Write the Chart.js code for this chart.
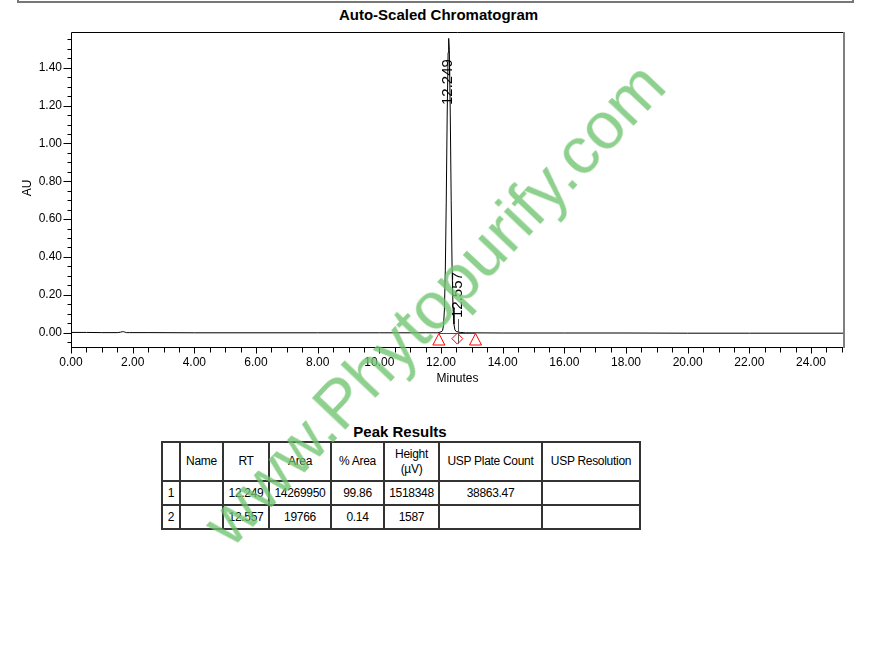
<!DOCTYPE html>
<html>
<head>
<meta charset="utf-8">
<script src="https://cdn.jsdelivr.net/npm/chart.js@4/dist/chart.umd.min.js"></script>
<style>
  html, body { margin:0; padding:0; background:#fff; }
  body { width:882px; height:655px; position:relative; overflow:hidden; font-family:"Liberation Sans", Arial, sans-serif; }
  #chart { position:absolute; left:0; top:0; }
  #hdr { position:absolute; left:17px; top:-4px; width:833px; height:5px; border:2px solid #777; border-top:none; }
  #title { position:absolute; left:0; top:5px; width:877px; text-align:center; font-weight:bold; font-size:15px; line-height:20px; color:#000; }
  #ptitle { position:absolute; left:161px; top:422px; width:478px; text-align:center; font-weight:bold; font-size:15px; line-height:20px; color:#000; }
  #tbl { position:absolute; left:161px; top:441px; border-collapse:collapse; table-layout:fixed; width:478px; font-size:12px; color:#000; }
  #tbl td { border:2px solid #333; text-align:center; padding:0; line-height:15px; overflow:hidden; white-space:nowrap; letter-spacing:-0.3px; }
  #tbl tr.h td { height:37px; }
  #tbl tr.r td { height:22px; }
  #wm { position:absolute; left:433px; top:303px; transform:translate(-50%,-50%) rotate(-46.5deg); font-size:67px; color:rgba(110,195,110,0.78); white-space:nowrap; pointer-events:none; font-family:"Liberation Sans", Arial, sans-serif; }
</style>
</head>
<body>
<div id="hdr"></div>
<div id="title">Auto-Scaled Chromatogram</div>
<canvas id="chart" width="882" height="400"></canvas>
<div id="ptitle">Peak Results</div>
<table id="tbl"></table>
<div id="wm">www.Phytopurify.com</div>
<script>
// ---- data ----
const chromTime = [0.00, 0.50, 1.00, 1.50, 1.60, 1.66, 1.70, 1.74, 1.80, 1.90, 2.50, 4.00, 6.00, 8.00, 10.00, 11.50, 11.90,
  12.00, 12.05, 12.08, 12.11, 12.14, 12.17, 12.20, 12.23, 12.249, 12.27, 12.30, 12.33, 12.36, 12.39, 12.42, 12.45, 12.50,
  12.557, 12.62, 12.80, 14.00, 16.00, 18.00, 20.00, 22.00, 24.00, 25.07];
const chromAU = [0.001, 0.001, 0.000, 0.000, 0.002, 0.005, 0.005, 0.003, 0.000, 0.000, 0.000, -0.001, -0.001, -0.001, -0.001, -0.001, -0.001,
  0.004, 0.010, 0.037, 0.120, 0.330, 0.690, 1.140, 1.480, 1.555, 1.490, 1.160, 0.700, 0.340, 0.130, 0.045, 0.015, 0.005,
  0.004, 0.001, -0.001, -0.002, -0.002, -0.002, -0.003, -0.003, -0.003, -0.003];
const yTickValues = [0.00, 0.20, 0.40, 0.60, 0.80, 1.00, 1.20, 1.40];
const xTickValues = [0, 2, 4, 6, 8, 10, 12, 14, 16, 18, 20, 22, 24];
const peakRT = [12.249, 12.557];
const peakLabels = ['12.249', '12.557'];
const peakLabelStartAU = [1.203, 0.077];
const baselineMarkTimes = [11.93, 13.12];   // triangles (peak start / end)
const dropMarkTimes = [12.53];              // diamond (valley drop)

const tableHeader = ['', 'Name', 'RT', 'Area', '% Area', 'Height<br>(µV)', 'USP Plate Count', 'USP Resolution'];
const tableRows = [
  ['1', '', '12.249', '14269950', '99.86', '1518348', '38863.47', ''],
  ['2', '', '12.557', '19766', '0.14', '1587', '', '']
];
const colWidths = [18, 43, 46, 62, 53, 55, 103, 98];

// ---- table ----
const tbl = document.getElementById('tbl');
let html = '<colgroup>' + colWidths.map(w => '<col style="width:' + w + 'px">').join('') + '</colgroup>';
html += '<tr class="h">' + tableHeader.map(t => '<td>' + t + '</td>').join('') + '</tr>';
tableRows.forEach(r => { html += '<tr class="r">' + r.map(t => '<td>' + t + '</td>').join('') + '</tr>'; });
tbl.innerHTML = html;

// ---- chart ----
const FONT = '"Liberation Sans", Arial, sans-serif';
const yMinor = []; for (let v = -0.05; v < 1.58; v += 0.05) yMinor.push(Math.round(v * 100) / 100);
const xMinor = []; for (let v = 0; v <= 25.001; v += 0.5) xMinor.push(v);

const decor = {
  id: 'decor',
  afterDatasetsDraw(chart) {
    const { ctx, chartArea: a, scales: { x, y } } = chart;
    ctx.save();
    const y0 = y.getPixelForValue(0);
    ctx.strokeStyle = '#ff0000'; ctx.lineWidth = 1;
    const xs = x.getPixelForValue(baselineMarkTimes[0]), xe = x.getPixelForValue(baselineMarkTimes[1]);
    ctx.beginPath(); ctx.moveTo(xs, Math.round(y0) + 0.5); ctx.lineTo(xe, Math.round(y0) + 0.5); ctx.stroke();
    baselineMarkTimes.forEach(t => {
      const px = x.getPixelForValue(t), top = Math.round(y0) + 0.5;
      ctx.beginPath(); ctx.moveTo(px, top); ctx.lineTo(px + 6, top + 11.5); ctx.lineTo(px - 6, top + 11.5); ctx.closePath(); ctx.stroke();
    });
    dropMarkTimes.forEach(t => {
      const px = x.getPixelForValue(t), cy = y0 + 6;
      ctx.beginPath(); ctx.moveTo(px, cy - 5.5); ctx.lineTo(px + 5.5, cy); ctx.lineTo(px, cy + 5.5); ctx.lineTo(px - 5.5, cy); ctx.closePath(); ctx.stroke();
    });
    ctx.strokeStyle = '#555';
    const p2 = Math.round(x.getPixelForValue(peakRT[1])) + 0.5;
    ctx.beginPath(); ctx.moveTo(p2, y.getPixelForValue(peakLabelStartAU[1]) + 1); ctx.lineTo(p2, y0 + 11); ctx.stroke();
    ctx.fillStyle = '#000'; ctx.font = '15px ' + FONT; ctx.textAlign = 'left'; ctx.textBaseline = 'middle';
    peakRT.forEach((rt, i) => {
      ctx.save();
      ctx.translate(x.getPixelForValue(rt) - 0.5, y.getPixelForValue(peakLabelStartAU[i]));
      ctx.rotate(-Math.PI / 2);
      ctx.fillText(peakLabels[i], 0, 0);
      ctx.restore();
    });
    ctx.restore();
  },
  afterDraw(chart) {
    const { ctx, chartArea: a, scales: { x, y } } = chart;
    ctx.save();
    ctx.strokeStyle = '#000'; ctx.lineWidth = 1;
    const L = a.left + 0.5, T = a.top + 0.5, B = a.bottom + 0.5, R = a.right;
    ctx.beginPath();
    ctx.moveTo(L, B); ctx.lineTo(L, T); ctx.lineTo(R, T);
    ctx.moveTo(L, B); ctx.lineTo(R, B);
    ctx.stroke();
    ctx.strokeStyle = '#808080'; ctx.lineWidth = 2;
    ctx.beginPath(); ctx.moveTo(R, a.top); ctx.lineTo(R, a.bottom + 1); ctx.stroke();
    ctx.strokeStyle = '#000'; ctx.lineWidth = 1;
    ctx.beginPath();
    yMinor.forEach(v => { const p = Math.round(y.getPixelForValue(v)) + 0.5; ctx.moveTo(L - 4, p); ctx.lineTo(L, p); });
    yTickValues.forEach(v => { const p = Math.round(y.getPixelForValue(v)) + 0.5; ctx.moveTo(L - 8, p); ctx.lineTo(L, p); });
    xMinor.forEach(v => { const p = Math.round(x.getPixelForValue(v)) + 0.5; ctx.moveTo(p, B); ctx.lineTo(p, B + 5); });
    xTickValues.forEach(v => { const p = Math.round(x.getPixelForValue(v)) + 0.5; ctx.moveTo(p, B); ctx.lineTo(p, B + 6); });
    ctx.stroke();
    ctx.fillStyle = '#000'; ctx.font = '12px ' + FONT; ctx.textAlign = 'center'; ctx.textBaseline = 'middle';
    ctx.fillText('Minutes', (a.left + a.right) / 2, 379);
    ctx.save(); ctx.translate(28, 188); ctx.rotate(-Math.PI / 2); ctx.fillText('AU', 0, 0); ctx.restore();
    ctx.restore();
  }
};

new Chart(document.getElementById('chart'), {
  type: 'line',
  data: {
    datasets: [{
      data: chromTime.map((t, i) => ({ x: t, y: chromAU[i] })),
      borderColor: '#000', borderWidth: 1, pointRadius: 0, tension: 0, fill: false
    }]
  },
  options: {
    responsive: false, animation: false, devicePixelRatio: 1,
    layout: { padding: { left: 0, top: 32, right: 38, bottom: 0 } },
    plugins: { legend: { display: false }, tooltip: { enabled: false } },
    scales: {
      x: {
        type: 'linear', min: 0, max: 25.07,
        afterBuildTicks: s => { s.ticks = xTickValues.map(v => ({ value: v })); },
        afterFit: s => { s.height = 53; },
        grid: { display: false, drawTicks: false }, border: { display: false },
        ticks: { autoSkip: false, maxRotation: 0, padding: 8, color: '#000', font: { family: FONT, size: 12 }, callback: v => Number(v).toFixed(2) }
      },
      y: {
        type: 'linear', min: -0.076, max: 1.589,
        afterBuildTicks: s => { s.ticks = yTickValues.map(v => ({ value: v })); },
        afterFit: s => { s.width = 71; },
        grid: { display: false, drawTicks: false }, border: { display: false },
        ticks: { autoSkip: false, padding: 9, color: '#000', font: { family: FONT, size: 12 }, callback: v => Number(v).toFixed(2) }
      }
    }
  },
  plugins: [decor]
});
</script>
</body>
</html>
